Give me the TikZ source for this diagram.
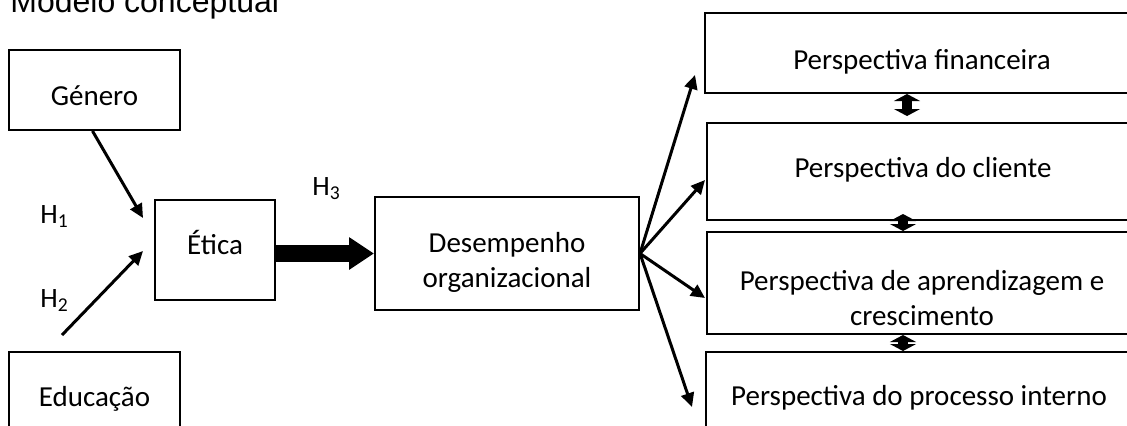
\documentclass[tikz,border=0pt]{standalone}
\usepackage{fontspec}
\setmainfont{Carlito}
\newfontfamily\titlefont{Liberation Sans}
\usetikzlibrary{arrows.meta, positioning}

\begin{document}
\begin{tikzpicture}[x=0.5pt, y=-0.5pt,
    box/.style={draw, line width=1pt, inner sep=0pt},
    txt/.style={font=\fontsize{14.5}{17.5}\selectfont, align=center, inner sep=0pt},
    hlab/.style={font=\fontsize{14}{17}\selectfont, inner sep=0pt, anchor=base west},
    arr/.style={line width=1.5pt, -{Triangle[length=7pt, width=6.5pt]}},
    bigarr/.style={line width=8.5pt, -{Triangle[length=12.5pt, width=15.5pt]}},
    dblarr/.style={line width=5pt, {Triangle[length=3.5pt, width=13pt]}-{Triangle[length=3.5pt, width=13pt]}}]
      \useasboundingbox (0,0) rectangle (1127,425);
      \clip (0,0) rectangle (1127,425);

      \node[font=\titlefont\fontsize{16}{19}\selectfont, anchor=base west, inner sep=0pt]
        (title) at (10,12) {Modelo conceptual};

      % left side
      \node[box, minimum width=85.5pt, minimum height=40pt] (gen) at (94.5,90) {};
      \node[txt, anchor=base] (genT) at (94.5,105) {Género};
      \node[box, minimum width=85.5pt, minimum height=46pt] (edu) at (94.5,398) {};
      \node[txt, anchor=base] (eduT) at (94.5,406) {Educação};
      \node[box, minimum width=60pt, minimum height=50pt] (eth) at (215,250) {};
      \node[txt, anchor=base] (ethT) at (215,254) {Ética};
      \node[box, minimum width=132pt, minimum height=56.5pt] (des) at (507,253.5) {};
      \node[txt, anchor=base] (desT) at (507,287) {Desempenho\\organizacional};

      % perspectives
      \node[box, minimum width=217pt, minimum height=40pt] (fin) at (922,53) {};
      \node[txt, anchor=base] (finT) at (922,69) {Perspectiva financeira};
      \node[box, minimum width=216pt, minimum height=48.5pt] (cli) at (923,171.5) {};
      \node[txt, anchor=base] (cliT) at (923,177) {Perspectiva do cliente};
      \node[box, minimum width=216pt, minimum height=51pt] (apr) at (923,283) {};
      \node[txt, anchor=base] (aprT) at (922,325) {Perspectiva de aprendizagem e\\crescimento};
      \node[box, minimum width=216.5pt, minimum height=46pt] (pro) at (922.5,398) {};
      \node[txt, anchor=base] (proT) at (919,405) {Perspectiva do processo interno};

      \node[hlab] (h1) at (40,223) {H\textsubscript{1}};
      \node[hlab] (h2) at (40,307) {H\textsubscript{2}};
      \node[hlab] (h3) at (312,195) {H\textsubscript{3}};

      % free arrow ends
      \coordinate (e1) at (143,218);
      \coordinate (e2) at (143,251);
      \coordinate (s2) at (62,335);
      \coordinate (tf) at (695,75);
      \coordinate (tc) at (705,180);
      \coordinate (ta) at (705,298);
      \coordinate (tp) at (692,407);

      \draw[arr] ([xshift=-1pt]gen.south) -- (e1);
      \draw[arr] (s2) -- (e2);
      \draw[bigarr] (eth.east |- des.west) -- (des.west);
      \foreach \t in {tf, tc, ta, tp}
        \draw[arr] (des.east) -- (\t);

      \draw[dblarr] ([xshift=-7.5pt]fin.south) -- ([xshift=-8pt, yshift=3pt]cli.north);
      \draw[dblarr] ([xshift=-10pt, yshift=3.5pt]cli.south) -- ([xshift=-10pt]apr.north);
      \draw[dblarr] ([xshift=-10pt]apr.south) -- ([xshift=-9.75pt]pro.north);
\end{tikzpicture}
\end{document}
